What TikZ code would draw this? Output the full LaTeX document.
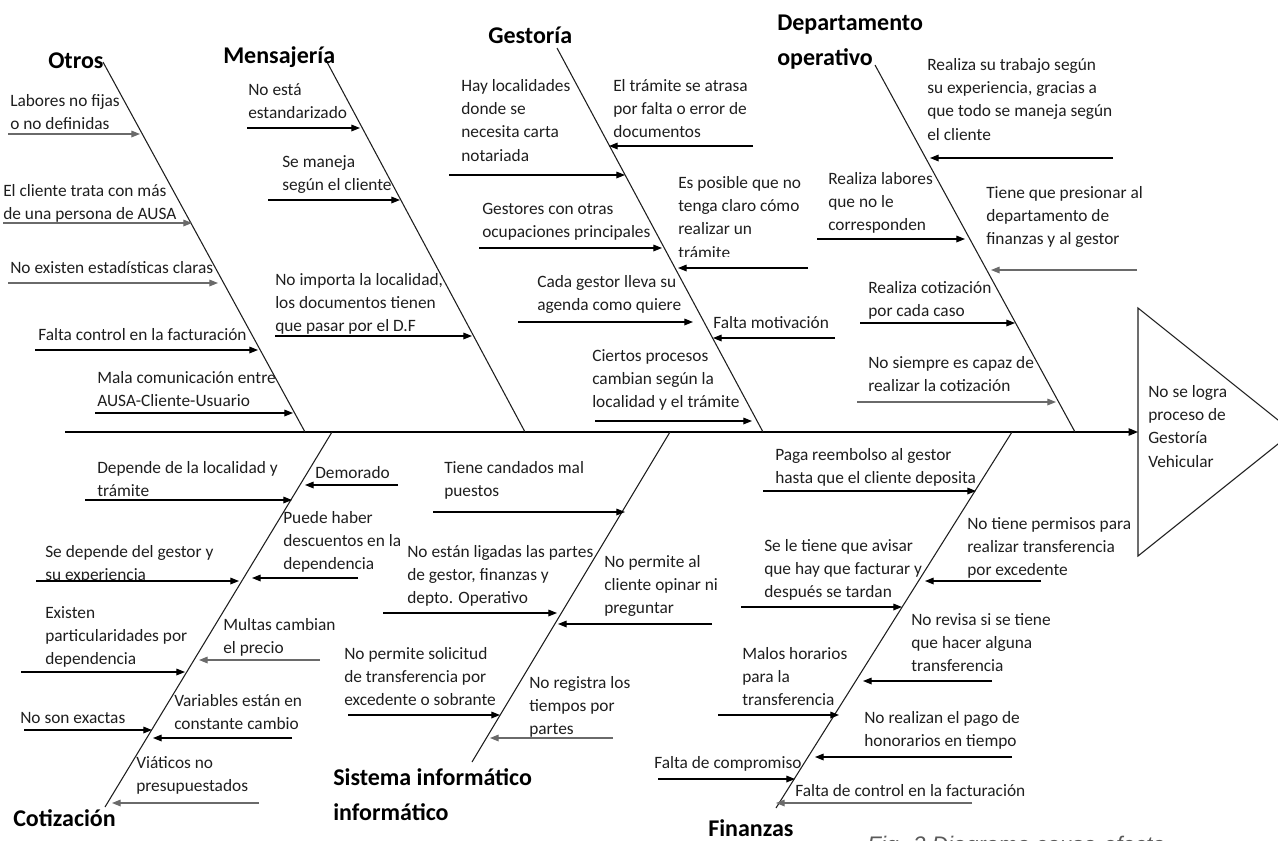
\documentclass[tikz,border=0pt]{standalone}
\usepackage{fontspec}
\setmainfont{Carlito}
\newfontfamily\capfont{Liberation Sans}
\usetikzlibrary{arrows.meta}
\definecolor{ink}{HTML}{1E1E1E}
\definecolor{softink}{HTML}{6A6A6A}
\definecolor{capgray}{HTML}{5A5A5A}

% stacked lines whose baseline is the first line
\newcommand\stack[1]{\begin{tabular}[t]{@{}l@{}}#1\end{tabular}}
% cause label: name, x, centre of first line, text
\newcommand\lbl[4]{\node[lbl] (#1) at (#2,{#3+5}) {\stack{#4}};}
% cause arrow: [extra style] name, x from, x to, y
\newcommand\carrow[5][]{%
  \coordinate (#2s) at (#3,#5);
  \coordinate (#2e) at (#4,#5);
  \draw[causearrow,#1] (#2s) -- (#2e);}
% main bone between two named ends
\newcommand\mbone[5]{%
  \coordinate (#1a) at (#2,#3);
  \coordinate (#1b) at (#4,#5);
  \draw[bone] (#1a) -- (#1b);}

\begin{document}
\begin{tikzpicture}[x=0.75pt,y=-0.75pt,
  lbl/.style={anchor=base west,inner sep=0,text=ink,
    font=\fontsize{13}{17.6}\selectfont},
  ttl/.style={anchor=base west,inner sep=0,text=black,
    font=\fontsize{18}{26.5}\selectfont\bfseries},
  bone/.style={draw=ink,line width=0.8pt},
  spine/.style={draw=black,line width=1pt,-{Triangle[length=7pt,width=5.5pt]}},
  causearrow/.style={draw=black,line width=0.9pt,-{Triangle[length=6.5pt,width=5pt]}},
  faint/.style={draw=softink}
]
\path[use as bounding box] (0,0) rectangle (1278,840);
\clip (0,0) rectangle (1278,840);

% ---------- head (effect) and spine ----------
\coordinate (headTop) at (1138,308);
\coordinate (headTip) at (1293,432);
\coordinate (headBot) at (1138,556);
\coordinate (headIn) at (1138,432);
\draw[bone] (headTop) -- (headTip) -- (headBot) -- cycle;
\lbl{effect}{1148}{392}{No se logra\\proceso de\\Gestoría\\Vehicular}
\coordinate (spineStart) at (65,432);
\draw[spine] (spineStart) -- (headIn);

% ---------- bones ----------
\mbone{otros}{103}{62}{305}{432}
\mbone{mens}{327}{62}{525}{432}
\mbone{gest}{557}{48}{763}{432}
\mbone{dept}{875}{65}{1075}{432}
\mbone{coti}{332}{432}{105}{807}
\mbone{sist}{670}{432}{472}{762}
\mbone{fin}{1012}{432}{776}{808}

% ---------- category titles ----------
\node[ttl] (tOtros) at (48,68) {Otros};
\node[ttl] (tMens) at (223,63) {Mensajería};
\node[ttl] (tGest) at (488,43) {Gestoría};
\node[ttl] (tDept) at (777,30) {\stack{Departamento\\operativo}};
\node[ttl] (tCoti) at (13,826) {Cotización};
\node[ttl] (tSist) at (333,785) {\stack{Sistema informático\\informático}};
\node[ttl] (tFin) at (708,836) {Finanzas};

% ---------- Otros ----------
\lbl{o1}{10}{101}{Labores no fijas\\o no definidas}
\carrow[faint]{ao1}{8}{140}{134}
\lbl{o2}{3}{191}{El cliente trata con más\\de una persona de AUSA}
\carrow[faint]{ao2}{3}{192}{223}
\lbl{o3}{10}{268}{No existen estadísticas claras}
\carrow[faint]{ao3}{8}{218}{283}
\lbl{o4}{38}{335}{Falta control en la facturación}
\carrow{ao4}{35}{258}{350}
\lbl{o5}{97}{378}{Mala comunicación entre\\AUSA-Cliente-Usuario}
\carrow{ao5}{95}{293}{413}

% ---------- Mensajería ----------
\lbl{m1}{248}{90}{No está\\estandarizado}
\carrow{am1}{247}{360}{128}
\lbl{m2}{282}{162}{Se maneja\\según el cliente}
\carrow{am2}{268}{400}{200}
\lbl{m3}{275}{280}{No importa la localidad,\\los documentos tienen\\que pasar por el D.F}
\carrow{am3}{275}{472}{336}

% ---------- Gestoría ----------
\lbl{g1}{461}{86}{Hay localidades\\donde se\\necesita carta\\notariada}
\carrow{ag1}{449}{625}{175}
\lbl{g2}{613}{86}{El trámite se atrasa\\por falta o error de\\documentos}
\carrow{ag2}{753}{609}{146}
\lbl{g3}{482}{209}{Gestores con otras\\ocupaciones principales}
\carrow{ag3}{479}{662}{248}
\begin{scope}
  \clip (670,160) rectangle (820,256);
  \lbl{g4}{678}{183}{Es posible que no\\tenga claro cómo\\realizar un\\trámite}
\end{scope}
\carrow{ag4}{808}{678}{268}
\lbl{g5}{537}{282}{Cada gestor lleva su\\agenda como quiere}
\carrow{ag5}{518}{693}{322}
\lbl{g6}{713}{323}{Falta motivación}
\carrow{ag6}{835}{713}{338}
\lbl{g7}{592}{356}{Ciertos procesos\\cambian según la\\localidad y el trámite}
\carrow{ag7}{595}{752}{421}

% ---------- Departamento operativo ----------
\lbl{d1}{927}{65}{Realiza su trabajo según\\su experiencia, gracias a\\que todo se maneja según\\el cliente}
\carrow{ad1}{1113}{930}{158}
\lbl{d2}{828}{179}{Realiza labores\\que no le\\corresponden}
\carrow{ad2}{817}{965}{239}
\lbl{d3}{986}{193}{Tiene que presionar al\\departamento de\\finanzas y al gestor}
\carrow[faint]{ad3}{1137}{991}{270}
\begin{scope}
  \clip (860,270) rectangle (1020,320);
  \lbl{d4}{868}{288}{Realiza cotización\\por cada caso}
\end{scope}
\carrow{ad4}{860}{1015}{323}
\lbl{d5}{868}{363}{No siempre es capaz de\\realizar la cotización}
\carrow[faint]{ad5}{857}{1056}{402}

% ---------- Cotización ----------
\lbl{c1}{97}{468}{Depende de la localidad y\\trámite}
\carrow{ac1}{85}{292}{500}
\lbl{c2}{315}{473}{Demorado}
\carrow{ac2}{398}{305}{485}
\lbl{c3}{283}{518}{Puede haber\\descuentos en la\\dependencia}
\carrow{ac3}{358}{252}{578}
\begin{scope}
  \clip (30,535) rectangle (260,580);
  \lbl{c4}{45}{552}{Se depende del gestor y\\su experiencia}
\end{scope}
\carrow{ac4}{36}{239}{581}
\lbl{c5}{45}{613}{Existen\\particularidades por\\dependencia}
\carrow{ac5}{21}{185}{672}
\lbl{c6}{223}{625}{Multas cambian\\el precio}
\carrow[faint]{ac6}{320}{199}{660}
\lbl{c7}{20}{718}{No son exactas}
\carrow{ac7}{24}{152}{730}
\lbl{c8}{174}{701}{Variables están en\\constante cambio}
\carrow{ac8}{292}{153}{738}
\lbl{c9}{136}{763}{Viáticos no\\presupuestados}
\carrow[faint]{ac9}{259}{112}{803}

% ---------- Sistema informático ----------
\lbl{s1}{444}{468}{Tiene candados mal\\puestos}
\carrow{as1}{433}{625}{512}
\lbl{s2}{407}{552}{No están ligadas las partes\\de gestor, finanzas y\\depto. Operativo}
\carrow{as2}{383}{557}{613}
\lbl{s3}{604}{562}{No permite al\\cliente opinar ni\\preguntar}
\carrow{as3}{712}{558}{624}
\lbl{s4}{344}{654}{No permite solicitud\\de transferencia por\\excedente o sobrante}
\carrow{as4}{348}{500}{715}
\lbl{s5}{529}{683}{No registra los\\tiempos por\\partes}
\carrow[faint]{as5}{613}{490}{738}

% ---------- Finanzas ----------
\lbl{f1}{775}{455}{Paga reembolso al gestor\\hasta que el cliente deposita}
\carrow{af1}{763}{976}{491}
\lbl{f2}{967}{524}{No tiene permisos para\\realizar transferencia\\por excedente}
\carrow{af2}{1041}{925}{581}
\lbl{f3}{764}{546}{Se le tiene que avisar\\que hay que facturar y\\después se tardan}
\carrow{af3}{741}{902}{607}
\lbl{f4}{911}{620}{No revisa si se tiene\\que hacer alguna\\transferencia}
\carrow{af4}{992}{863}{681}
\lbl{f5}{742}{654}{Malos horarios\\para la\\transferencia}
\carrow{af5}{718}{839}{715}
\lbl{f6}{864}{718}{No realizan el pago de\\honorarios en tiempo}
\carrow{af6}{1012}{815}{757}
\lbl{f7}{654}{763}{Falta de compromiso}
\carrow{af7}{658}{795}{779}
\lbl{f8}{795}{791}{Falta de control en la facturación}
\carrow[faint]{af8}{972}{776}{803}

% ---------- caption, running past the lower edge ----------
\node[anchor=base west,inner sep=0,text=capgray,
  font=\capfont\itshape\fontsize{16.9}{20}\selectfont] (caption) at (867,852)
  {Fig. 2 Diagrama causa-efecto};
\end{tikzpicture}
\end{document}
